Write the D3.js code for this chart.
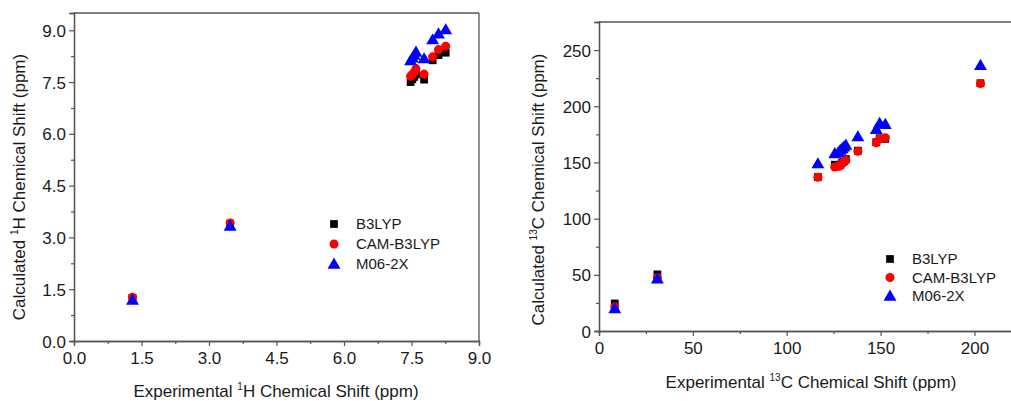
<!DOCTYPE html>
<html>
<head>
<meta charset="utf-8">
<script src="https://cdn.jsdelivr.net/npm/d3@7"></script>
<style>
    body { margin: 0; background: #fff; }
    svg { font-family: "Liberation Sans", Arial, sans-serif; }
</style>
</head>
<body>
<div id="graph"></div>
<script>
// 1H chemical shifts (ppm)
let h_exp   = [1.30, 3.47, 7.48, 7.52, 7.56, 7.60, 7.78, 7.97, 8.10, 8.26];
let h_b3lyp = [1.25, 3.40, 7.50, 7.58, 7.65, 7.72, 7.57, 8.13, 8.28, 8.35];
let h_cam   = [1.27, 3.42, 7.67, 7.72, 7.78, 7.89, 7.73, 8.23, 8.44, 8.54];
let h_m06   = [1.19, 3.33, 8.12, 8.20, 8.28, 8.37, 8.18, 8.73, 8.90, 9.02];

// 13C chemical shifts (ppm)
let c_exp   = [8.4, 31.1, 116.6, 125.6, 127.5, 128.5, 129.5, 130.5, 131.5, 137.9, 147.7, 149.5, 152.5, 203.2];
let c_b3lyp = [24.5, 50.4, 137.0, 148.0, 147.0, 148.0, 150.0, 151.0, 153.0, 160.5, 168.0, 171.5, 171.0, 220.5];
let c_cam   = [21.5, 47.5, 136.8, 146.0, 146.5, 147.0, 149.0, 150.5, 152.0, 160.0, 167.5, 171.0, 172.0, 220.2];
let c_m06   = [20.0, 46.5, 149.0, 158.0, 159.0, 161.0, 162.5, 164.0, 165.5, 173.0, 179.5, 185.0, 184.0, 236.5];

let series_names = ["B3LYP", "CAM-B3LYP", "M06-2X"];
let series_colors = ["#000000", "#ff0000", "#0000ff"];
let series_symbols = [d3.symbolSquare, d3.symbolCircle, d3.symbolTriangle];
let series_sizes = [60, 64, 72];

let h_ticks = [0, 1.5, 3.0, 4.5, 6.0, 7.5, 9.0];
let c_xticks = [0, 50, 100, 150, 200];
let c_yticks = [0, 50, 100, 150, 200, 250];

let svg = d3.select("#graph")
    .append("svg")
    .attr("width", 1011)
    .attr("height", 401);

const axisColor = "#555";
const textColor = "#1a1a1a";

// draws one panel
function drawPanel(opt) {
    let x = d3.scaleLinear().domain(opt.xDomain).range([opt.left, opt.right]);
    let y = d3.scaleLinear().domain(opt.yDomain).range([opt.bottom, opt.top]);

    let g = svg.append("g");

    // frame lines
    g.append("line")
        .attr("x1", opt.left).attr("x2", opt.right)
        .attr("y1", opt.top).attr("y2", opt.top)
        .attr("stroke", axisColor).attr("stroke-width", 1.3);
    if (opt.rightBorder) {
        g.append("line")
            .attr("x1", opt.right).attr("x2", opt.right)
            .attr("y1", opt.top).attr("y2", opt.bottom)
            .attr("stroke", axisColor).attr("stroke-width", 1.3);
    }

    // minor ticks
    let xMinor = d3.axisBottom(x).tickValues(opt.xMinor).tickSize(3).tickFormat("");
    let yMinor = d3.axisLeft(y).tickValues(opt.yMinor).tickSize(3).tickFormat("");
    g.append("g").attr("transform", `translate(0, ${opt.bottom})`).call(xMinor);
    g.append("g").attr("transform", `translate(${opt.left}, 0)`).call(yMinor);

    // major axes
    let xAxis = g.append("g")
        .attr("transform", `translate(0, ${opt.bottom})`)
        .call(d3.axisBottom(x).tickValues(opt.xTicks).tickSize(5).tickPadding(6).tickFormat(opt.xFormat));
    let yAxis = g.append("g")
        .attr("transform", `translate(${opt.left}, 0)`)
        .call(d3.axisLeft(y).tickValues(opt.yTicks).tickSize(5).tickPadding(3).tickFormat(opt.yFormat));

    g.selectAll(".domain").attr("stroke", axisColor).attr("stroke-width", 1.3);
    g.selectAll(".tick line").attr("stroke", axisColor).attr("stroke-width", 1.2);
    [xAxis, yAxis].forEach(function (a) {
        a.selectAll("text")
            .style("font-size", "17px")
            .style("font-family", "Liberation Sans, Arial, sans-serif")
            .attr("fill", textColor);
    });
    yAxis.selectAll("text").attr("dy", "0.36em");

    // points
    opt.series.forEach(function (vals, i) {
        let pts = opt.xVals.map(function (v, j) { return [v, vals[j]]; });
        g.selectAll(null)
            .data(pts)
            .enter()
            .append("path")
            .attr("d", d3.symbol().type(series_symbols[i]).size(series_sizes[i]))
            .attr("transform", function (d) {
                let dy = i === 2 ? 1 : 0;
                return `translate(${x(d[0])}, ${y(d[1]) + dy})`;
            })
            .attr("fill", series_colors[i]);
    });

    // legend
    series_names.forEach(function (name, i) {
        let ly = opt.legendY + i * opt.legendStep;
        g.append("path")
            .attr("d", d3.symbol().type(series_symbols[i]).size(series_sizes[i]))
            .attr("transform", `translate(${opt.legendX}, ${ly + (i === 2 ? 1 : 0)})`)
            .attr("fill", series_colors[i]);
        g.append("text")
            .attr("x", opt.legendX + 22)
            .attr("y", ly)
            .attr("dy", "0.36em")
            .style("font-size", "15px")
            .attr("fill", textColor)
            .text(name);
    });

    // x axis title
    let xt = g.append("text")
        .attr("x", opt.xTitleX)
        .attr("y", opt.xTitleY)
        .attr("text-anchor", "middle")
        .style("font-size", "17px")
        .attr("fill", textColor);
    xt.append("tspan").text("Experimental ");
    xt.append("tspan").attr("dy", -7).style("font-size", "10px").text(opt.sup);
    xt.append("tspan").attr("dy", 7).text(opt.nucleus + " Chemical Shift (ppm)");

    // y axis title
    let yt = g.append("text")
        .attr("transform", `translate(${opt.yTitleX}, ${(opt.top + opt.bottom) / 2 + opt.yTitleShift}) rotate(-90)`)
        .attr("text-anchor", "middle")
        .style("font-size", "17px")
        .attr("fill", textColor);
    yt.append("tspan").text("Calculated ");
    yt.append("tspan").attr("dy", -7).style("font-size", "10px").text(opt.sup);
    yt.append("tspan").attr("dy", 7).text(opt.nucleus + " Chemical Shift (ppm)");
}

let fmt1 = d3.format(".1f");

drawPanel({
    left: 74, right: 479, top: 13, bottom: 341,
    xDomain: [0, 9], yDomain: [0, 9.5],
    xTicks: h_ticks, yTicks: h_ticks,
    xMinor: [0.75, 2.25, 3.75, 5.25, 6.75, 8.25],
    yMinor: [0.75, 2.25, 3.75, 5.25, 6.75, 8.25],
    xFormat: fmt1, yFormat: fmt1,
    rightBorder: true,
    xVals: h_exp, series: [h_b3lyp, h_cam, h_m06],
    legendX: 334, legendY: 224, legendStep: 20,
    xTitleX: 276, xTitleY: 397,
    yTitleX: 25, yTitleShift: 10,
    sup: "1", nucleus: "H"
});

drawPanel({
    left: 599, right: 1012, top: 22, bottom: 331,
    xDomain: [0, 220], yDomain: [0, 275],
    xTicks: c_xticks, yTicks: c_yticks,
    xMinor: [25, 75, 125, 175],
    yMinor: [25, 75, 125, 175, 225],
    xFormat: d3.format("d"), yFormat: d3.format("d"),
    rightBorder: false,
    xVals: c_exp, series: [c_b3lyp, c_cam, c_m06],
    legendX: 890, legendY: 259, legendStep: 18.5,
    xTitleX: 811, xTitleY: 388,
    yTitleX: 544, yTitleShift: 13,
    sup: "13", nucleus: "C"
});
</script>
</body>
</html>
